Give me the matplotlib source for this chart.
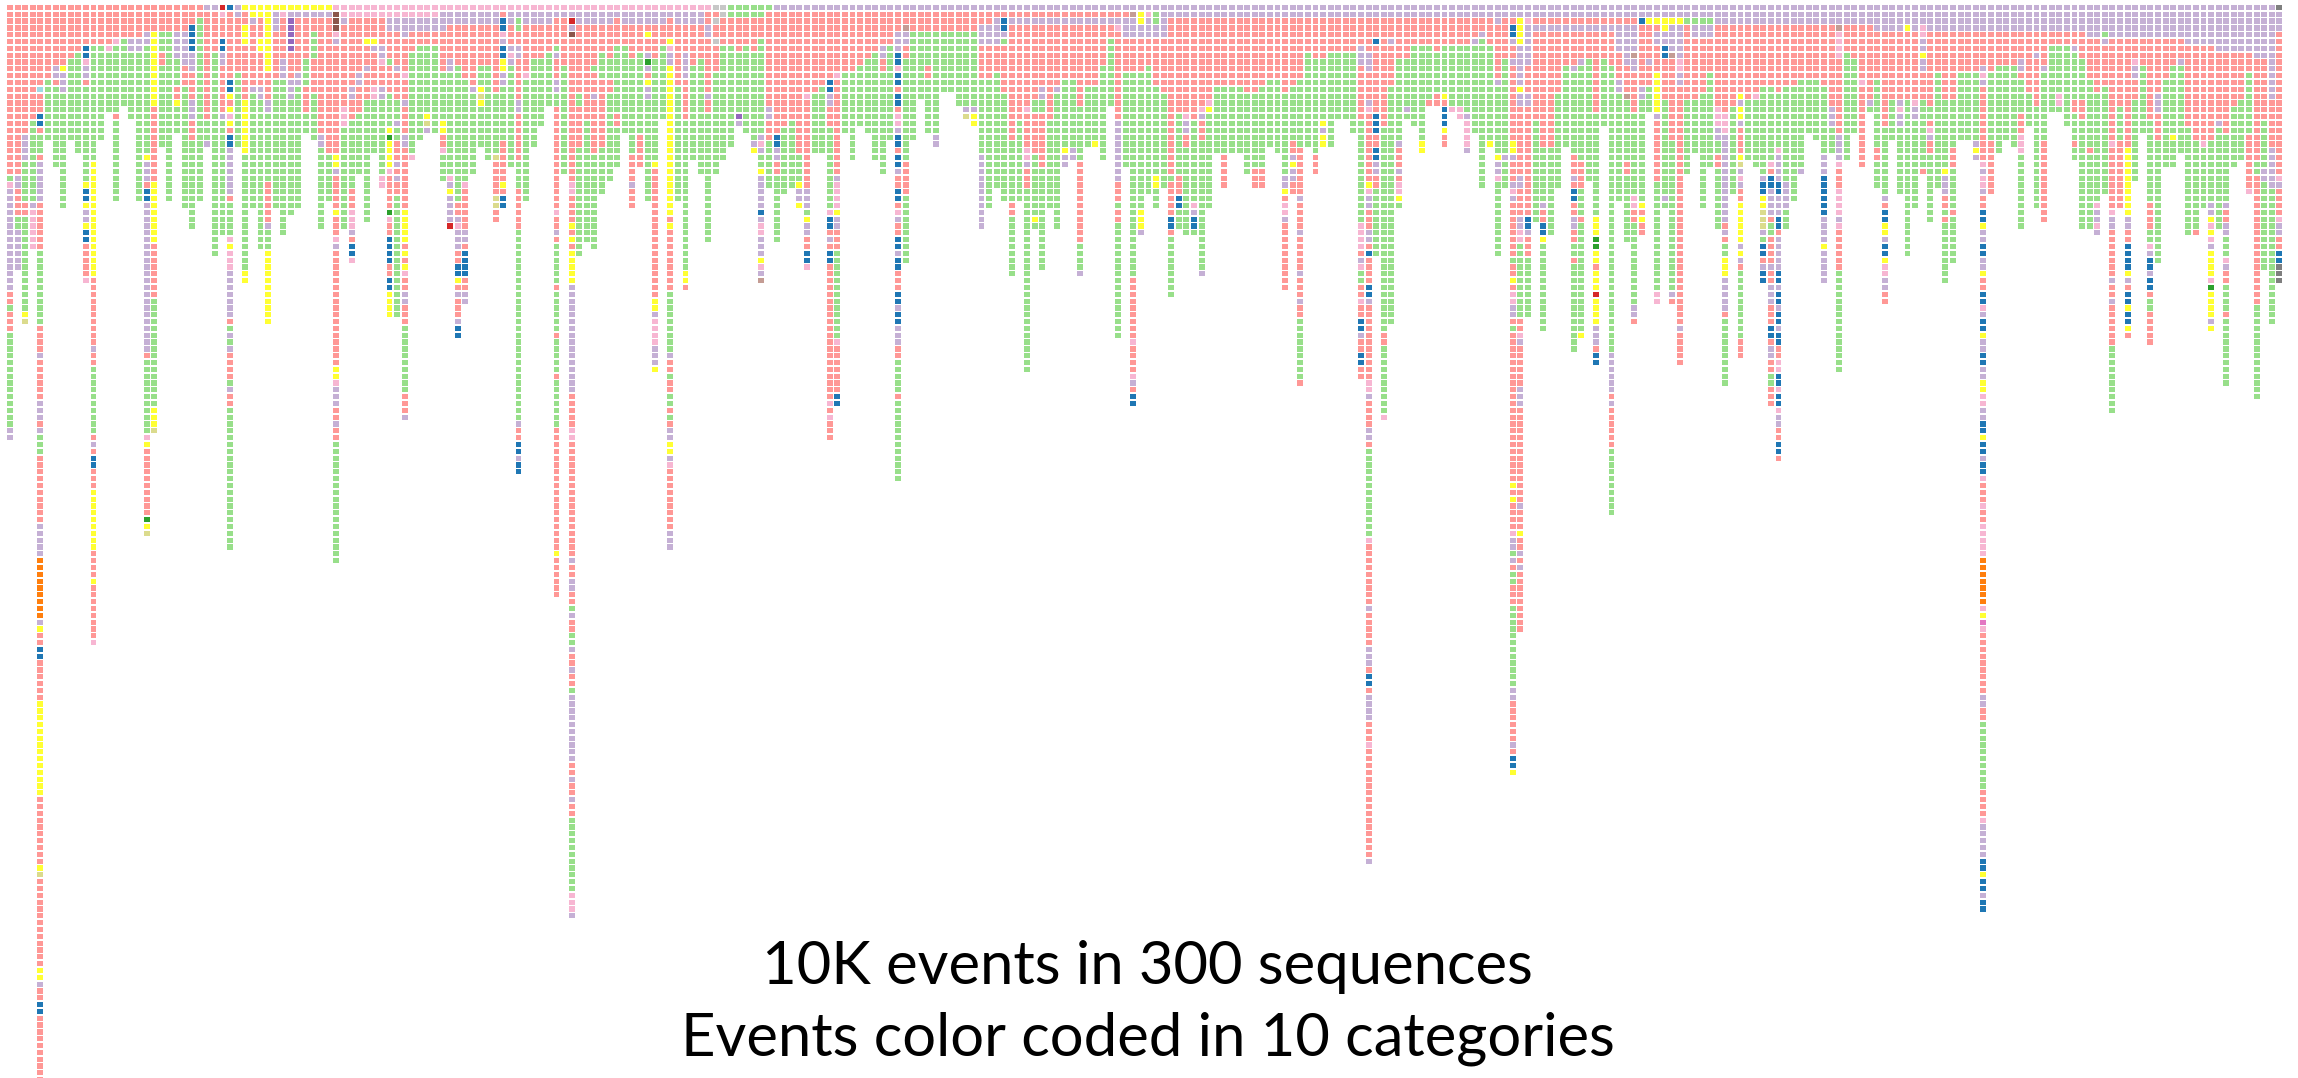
import matplotlib
matplotlib.use('Agg')
from matplotlib import pyplot as plt

# Event categories and their colours
category_codes = ['R', 'G', 'L', 'P', 'Y', 'B', 'O', 'D', 'N', 'T', 'V', 'K', 'A', 'S', 'E', 'C', 'M']
category_colors = ['#ff9896', '#98df8a', '#c5b0d5', '#f7b6d2', '#ffff33', '#1f77b4', '#ff7f0e',
                   '#d62728', '#8c564b', '#c49c94', '#9467bd', '#2ca02c', '#7f7f7f', '#c7c7c7',
                   '#dbdb8d', '#9edae5', '#e377c2']

# One string per sequence (column), events top to bottom as runs: code + count
sequences_0 = [
    "R25 G1 P1 L15 R2 G1 R3 G14 L2", "R25 L2 R4 G2 L6", "R19 L4 G6 R2 G14 Y1 E1", "R17 G12 L1 P6",
    "R12 C1 R3 B2 R1 G3 R1 L6 R7 G11 R4 L1 R6 L3 R1 L1 G3 R10 L5 O9 L1 Y1 R2 B2 R6 Y14 R10 Y1 E1 R13 Y2 L1 R2 B2 R14",
    "R11 G9", "R9 L2 R1 G12", "R9 Y1 L3 G17", "R8 G12", "R7 G15",
    "R6 B2 P1 L2 R1 G14 Y1 B2 Y1 L2 Y1 B2 R5 P1",
    "R6 G17 Y17 R10 L1 R2 G10 R1 L1 R1 B2 R3 Y9 R4 Y1 R8 P1",
    "R6 G14", "R6 P1 G9", "R5 P1 G10 R1 G12", "R5 G10", "R5 L2 G10", "R5 L2 G22",
    "R4 L2 G16 Y1 L3 R1 B2 L22 R1 G11 P1 Y1 R10 K1 Y1 E1",
    "R4 Y11 R11 Y9 R8 G16 Y3 E1", "R4 G3 R2 G12", "R4 G25", "R4 L4 G4 R2 Y1 G4", "R4 L5 R3 G18",
    "R3 B4 L3 R4 L3 R3 G13", "R2 G27", "L1 R16 G3 L1", "L1 R6 G30", "D1 P1 R3 B2 L2 R7 L1 G17",
    "B1 R10 B2 Y1 R1 Y1 P1 Y1 R1 B2 L7 R1 G5 P1 Y1 P3 L7 R1 G1 L1 G1 L1 R4 G1 L1 R2 G21",
    "L2 R8 G11", "Y1 R2 Y3 R8 Y8 G17 Y2", "Y2 L1 R9 L1 G17", "Y2 R3 Y2 R5 L2 G22",
    "Y10 R4 L2 G10 R6 L1 G3 Y11", "Y1 L3 R7 G19", "Y1 P1 R6 L3 G23", "Y1 L1 V5 R4 L3 G17",
    "Y1 L1 R8 L2 G18", "Y1 L1 R6 G4 R4 G3", "Y1 L1 R2 G4 R5 G7", "Y1 L1 R17 L2 G12", "Y1 L1 R20 G7",
    "P1 N3 P1 L1 R16 Y2 L1 R5 Y1 R3 P1 L1 R17 Y2 P1 L3 R2 L1 R2 G18",
    "P2 L1 R12 P3 G15", "P2 R10 L2 R3 G10 R3 P3 L1 R1 B2 P1", "P2 R8 L2 R4 G9",
    "P2 R3 Y1 R3 L1 R4 G18", "P2 R3 Y1 L1 R5 P2 G8", "P2 R4 L2 P1 R3 L2 G11 P2",
]
sequences_1 = [
    "P2 L2 R4 G1 R4 G5 Y1 K1 Y4 P1 R5 K1 P1 R2 B4 R2 B2 Y4",
    "P2 L2 R5 L1 R4 G3 L1 G2 R3 L1 R1 L1 R2 G18",
    "P2 L3 R5 P1 R3 L1 R4 L2 R9 Y5 R1 Y1 R1 Y1 P1 R2 L2 R3 G10 R3 L1",
    "P2 L2 R3 G15 P1", "P2 L2 R2 G14", "P2 L2 R2 G10 Y1 E1 L1", "P2 L2 R2 G13",
    "P1 L3 R6 G7 Y2 R2 P1 G4", "P1 L2 R5 L2 G15 P1 L1 Y1 L4 D1",
    "P1 L2 R6 G20 R2 L1 P1 L3 R2 B2 Y1 R1 L1 R3 L1 B2",
    "P1 L2 R8 G15 P1 R6 L2 R1 B4 R2 L2", "P1 L2 R9 L1 G12", "P1 L2 R6 G3 Y1 E1 Y1 G6",
    "P1 L2 R6 G14", "P1 L2 R10 G9 E1 R5 E2 R2", "P1 R1 B2 P1 L1 B2 Y2 L2 G8 R6 Y1 R1 B2",
    "P1 L2 R3 L1 P1 L1 G15",
    "P1 L1 G2 R2 L2 R6 L2 R7 G4 R6 G28 L1 R2 B2 L1 B2",
    "P1 L2 R7 P1 G18", "P1 L2 R5 G13", "P1 L2 R5 G10", "P1 L2 R4 G8",
    "P1 L1 R4 G1 L1 R3 L2 G2 R15 P1 R2 L1 R1 G6 R1 G6 R1 G5 R1 G7 R18 Y1 R6",
    "P1 L1 R7 G16",
    "P1 L1 D1 L1 N1 R21 P2 R4 Y1 R1 Y1 R1 Y5 L16 R5 P2 R17 L1 R2 L2 R2 G1 L1 R2 G2 L1 R2 L1 R2 G1 L10 R2 L1 R2 L1 R2 G11 P3 L1",
    "P1 L2 R10 G2 R6 G16", "P1 L2 R14 G18", "P1 L2 R6 G1 R3 L1 R8 G14", "P1 L2 R4 G4 R10 G7",
    "P1 L2 R5 G3 R2 G13", "P1 L1 R4 G10 R2 G6", "P1 L2 R3 G13", "P1 L2 R5 G14 R4 L1 R3",
    "P1 L2 R4 G12 R5", "P1 L2 R1 Y1 R2 L1 K1 L1 R1 Y1 L2 G15",
    "P1 L2 R5 G15 Y1 R19 Y2 L1 P4 L3 Y1", "P1 L2 R3 G11",
    "P1 L1 R3 Y1 P1 L2 Y22 R1 Y1 R9 G9 L1 R2 G1 R2 G2 R1 G1 R1 L2 Y2 L1 P1 R9 L3",
    "P1 L2 R9 G17", "P1 L2 R4 L4 R6 G22 Y2 R1", "P1 L2 R6 G14", "P1 L2 R5 G17",
    "P1 R2 L2 R8 L1 R2 G19", "S1 R1 S1 R2 S1 R4 G15", "S2 R4 G17", "G2 R4 G15",
    "G2 R5 G9 V1 L1", "G2 R4 G13", "G2 R5 G13 L1 Y1",
    "G2 R3 G14 L1 P1 L1 G2 Y1 L5 B1 L1 P2 L3 Y1 P1 L1 T1",
]
sequences_2 = [
    "G1 R14 L2 R3 G7", "L1 R18 B2 L2 R2 G10", "L1 R17 G10", "L1 R16 G10", "L1 R21 G4 Y1 L2 Y1",
    "L1 R12 P1 R13 L3 G1 Y1 L2 R2 B2 P1", "L1 R12 G9", "L1 R11 G10",
    "L1 R10 B2 L2 R3 G12 P1 B2 R1 L1 R1 B2 R20 P1 R1 P1 R3",
    "L1 R9 P1 R14 L1 P4 Y1 L2 R3 G13 P1 R7 B2",
    "L1 R9 G9", "L1 R9 G13", "L1 R8 G9", "L1 R7 G11", "L1 R6 G16", "L1 R5 L2 R2 G15", "L1 R5 G14",
    "L1 R3 L3 B2 P1 B2 R1 B2 R1 P2 L1 B2 R1 B2 L1 R2 B2 R1 P1 L1 R2 B2 L1 B2 R3 B2 L1 B2 L3 R2 G5 R1 G12",
    "L1 R2 T1 L2 R2 G15 R5 G10", "L1 R3 G16", "L1 R3 G10", "L1 R3 G5 R2 G8", "L1 R3 G15 L2",
    "L1 R3 G9", "L1 R3 G9", "L1 R3 G11", "L1 R3 G11 L1 E1", "L1 R3 G11 L1 Y2",
    "L1 R2 L3 R5 G11 L11", "L1 R2 L3 R5 G19", "L1 R1 L4 R4 G17", "L1 R1 B2 L1 G1 R7 G16",
    "L1 R1 L1 R17 G9 R2 G9", "L1 R1 L1 R14 G12", "L1 R1 L1 R12 P1 R5 P2 L1 R3 G27",
    "L1 R1 L1 R11 G2 R6 G9 Y1 G1", "L1 R1 L1 R9 L2 G2 R8 G15", "L1 R1 L1 R14 G13",
    "L1 R1 L1 R9 L1 G20", "L1 R1 L1 R8 G10 Y1 L2", "L1 R1 L1 R8 G10 L2",
    "L1 R1 L1 R12 G8 R12 G4 L1", "L1 R1 L1 R9 G9", "L1 R1 L1 R9 G8 Y1", "L1 R1 L1 R6 G14",
    "L1 R1 L1 R2 G10", "L1 R1 L1 P1 R13 L9 R3 G1 R2 G17", "L1 R1 L3 R5 G14",
    "L1 T1 L3 R5 G30 R9 P1 R4 P1 L1 R1 B2", "L1 Y2 L2 R5 G20 Y3 L1", "L1 P1 L3 R4 G19",
]
sequences_3 = [
    "L1 G2 L2 R7 G13 Y2 G3", "L5 R8 G14", "L2 R23 G1 R5 B2 R1 G9", "L2 R14 G9 R3 B2 G3",
    "L2 R14 P1 L2 R2 G13", "L2 R15 G12 P1 L1 B2 G1", "L2 R13 P1 L1 R3 G19 L1", "L2 R12 P1 Y1 G14",
    "L2 R10 G10", "L2 R10 G10 R5", "L2 R10 G10", "L2 R10 G10", "L2 R11 G12", "L2 R11 G11 R3",
    "L2 R10 G12 R3", "L2 R9 G10", "L2 R9 G11", "L2 R11 G12 L2 Y1 R1 P2 L1 R10",
    "L2 R10 G8 R2 L1 Y1 L2 R2", "L2 R9 G10 R7 L1 R4 L1 R5 L1 R3 L1 R2 G9 R1",
    "L2 R5 G14", "L2 R6 G14 R3", "L2 R6 G9 Y1 L1 Y2", "L2 R5 G14", "L2 R5 G10", "L2 R5 G10",
    "L2 R5 G12", "L2 R4 L3 R8 G15 P4 R1 L1 P1 G2 R2 P1 R2 B2 L1 R2 B2 R2",
    "L2 R5 L3 R4 L1 P1 R10 Y1 P1 L2 R3 L2 R1 B1 R4 B2 L1 R11 P2 L1 R4 L2 R1 G13 P1 R9 L1 R5 L3 R1 B2 R1 L4 R3 P1 R16 L1",
    "L2 R3 B1 R10 B3 R2 B2 L2 R2 G10", "L2 R16 G30 R2 G10 P1", "L2 R3 L1 R6 G35",
    "L2 R6 G12 L1 R3 L1 R1 P2 Y1 G1", "L2 R6 G7 L1 G1", "L2 R4 G12", "L2 R4 G14 Y2", "L2 R4 G8 R1",
    "L2 R5 G6 R2", "L2 R4 G7 Y1 R1 B3 Y1 R2", "L2 R4 G9 P1", "L2 R4 G9 P2", "L2 R4 G10 L1 P4 L1",
    "L2 R3 L1 G13", "L2 R2 L1 G22", "L2 R4 G14 Y1", "L3 R8 L1 G10 Y1 L2 P1 G11", "L2 R6 G14 L1 G4",
    "L2 R1 B2 L1 R2 L1 R11 Y2 L1 R3 L1 P1 L1 R8 G1 R2 Y1 R1 P2 L2 R1 G1 R22 Y1 R1 Y1 R4 P1 L2 G1 L1 R1 G2 R3 G12 L2 R6 L1 R1 B2 Y1",
    "L2 Y4 L6 Y1 L2 R10 L2 R4 L2 P2 G11 R2 P1 L1 R6 L3 R14 L1 R3 Y1 R2 L1 R1 L1 R9",
    "L2 P1 L6 R4 L2 R16 B2 L1 R3 G9",
]
sequences_4 = [
    "L2 R1 L1 R13 G15", "L2 R1 L1 R17 G8 L1 R2 B2 Y1 G13", "L2 R1 L1 R17 G13", "L2 R1 L1 R9 G14",
    "L2 R1 L1 R5 G12", "L2 R1 L1 R5 L1 G12 R3 L1 R1 B2 R2 L2 R2 G2 R1 G13",
    "L2 R1 L1 R4 L1 G14 R4 G4 R1 G16 Y1", "L2 R1 L1 R4 G18",
    "L2 R1 L1 R12 G15 Y3 K2 Y2 R1 Y3 D1 Y4 L3 R1 B2", "L2 R1 L1 R4 G10",
    "L2 R1 L1 R5 G42 L6 R1 L1 R6 G10", "L2 R1 L4 R4 L2 G16", "L2 R1 L6 R4 T1 G9 R2 G10",
    "L2 R1 L4 T1 L2 R6 G12 P2 R2 G12 L2 R1", "L2 B1 R9 L2 G15 Y1 R1 Y1 R2", "L2 Y1 R5 L1 R3 G4",
    "L2 Y1 R1 L2 R4 Y6 L1 R9 G16 P2", "L2 Y2 L2 B2 R6 G14 L1 G1", "L2 Y1 L4 T1 R12 G22 L1 R1",
    "L2 Y1 L5 P2 L2 R35 L1 R5", "L2 G1 R11 G11", "L2 G1 L2 R9 G8", "L2 G1 L2 R8 G17",
    "L2 G1 L2 R5 G14", "L3 R12 P3 L2 G2 R2 G9", "L3 R13 P3 L13 R1 L1 R1 G2 Y3 L5 R1 G10",
    "L3 R12 G13", "L3 R10 Y1 L1 Y2 L1 R4 Y1 E1 L1 P1 L1 R2 Y6 L1 Y1 L1 R1 G10 R3",
    "L3 R11 G9", "L3 R10 P1 G10", "L3 R9 G13 L1 B2 Y2 E3 L1 G1 B2 R1 L1 B2",
    "L3 R9 G11 P1 R1 B2 L4 R1 G2 R4 L1 R2 L3 R3 B2 R1 L2 R2 G2 R3",
    "L3 R10 G8 P1 L4 B2 L3 B2 R1 L5 B2 L1 B2 L1 B2 L1 B2 R2 P2 B2 P1 B2 P1 L2 R2 B2 R1",
    "L3 R9 G14 L4 G3", "L3 R9 G17", "L3 R8 G13 L1", "L3 R8 G8", "L3 R8 G9",
    "L3 R9 G10 L3 B6 L4 Y1 L5", "L3 R12 L3 G4", "L3 T1 P4 R11 L4 P1 R3 P4 L1 P1 R6 G15",
    "L3 R4 G16", "L3 R5 G11", "L3 R8 P1 R12", "L3 R11 L1 G1", "L4 R7 G10 R2 G4",
    "L4 R14 G10 L1 R1 B2 Y2 L1 B2 Y1 P2 L2 R2", "L4 R10 G6", "L4 R10 L1 P1 L2 G10", "L3 Y1 R10 G23",
]
sequences_5 = [
    "L4 R10 P1 L2 G13", "L3 P2 L2 Y1 L2 R4 G10 R1", "L4 R11 G2 R1 P1 L1 R2 G10", "L4 R6 G17",
    "L4 R10 G10 Y1 L3 R2 G1 R1 G9", "L4 R10 G7 R3 G6 R1 G7", "L4 R6 G10", "L4 R6 G10",
    "L4 R6 G10 L1 Y1 L1",
    "L4 R5 L1 P1 L1 R11 P1 L1 P2 L1 R2 B2 Y1 L2 B2 L2 Y1 R2 B2 P1 L1 B2 Y1 L2 B2 L2 Y2 P2 L2 B2 Y1 B2 L1 B2 P1 R3 P1 R2 P5 O7 P1 Y1 M1 P1 R9 L2 R2 G10 R4 P1 L5 B2 Y1 B2 L1 B2",
    "L4 R6 G10 R8", "L4 R5 G13", "L4 R5 G11", "L4 R5 G12", "L4 R4 L2 R1 G5 R3 P3 G11", "L4 R9 G5",
    "L4 R3 L1 R7 G15", "L4 R5 L1 G10 R12", "L4 R2 G10", "L4 R2 G7 P2 G1", "L4 R2 G12",
    "L4 R2 L1 G7 R2 G4 R1 G2", "L4 R4 G6 R3 G16", "L5 R6 G10 R1 G11", "L5 R8 G16 P1 L2 P1 L1",
    "L4 G1 L1 R6 G16", "L5 R15 P1 R9 P1 L2 R7 L1 R2 L1 R6 G10", "L5 R10 G5 R10",
    "L5 R16 Y10 L2 R2 B4 Y1 L1 R1 B2 Y1 B2 Y1 R1", "L5 R3 P1 L2 R3 G12", "L5 R4 G10",
    "L5 R12 G12 R4 G2 P1 L1 B2 L1 B2 R1 G2 R5", "L5 R8 L3 R4 G18", "L5 R6 G13",
    "L5 R4 G10 Y1 G4", "L5 R3 L1 G13", "L6 R12 G16", "L6 R14 G13 R1", "L6 R14 P1 G9",
    "L6 R14 G9 L2 Y1 P1 Y1 P1 L1 Y4 P1 K1 Y4 L1 Y1", "L7 R10 L1 G15",
    "L7 R12 G10 L1 R2 L2 G3 P1 L1 R2 G4 R1 G10", "L7 R8 G9", "L7 R7 G9", "L7 R3 G9 R8 P1",
    "L8 R15 G2 R19 G14", "L8 R9 G7 L2 G13", "L14 R7 L6 G20", "A1 L3 R21 P1 L1 R4 P1 L2 R2 B2 A3",
]
caption_lines = ['10K events in 300 sequences', 'Events color coded in 10 categories']

sequences = sequences_0 + sequences_1 + sequences_2 + sequences_3 + sequences_4 + sequences_5
color_of = dict(zip(category_codes, category_colors))

# Expand the runs into single cells
cell_x, cell_y, cell_c = [], [], []
for col, seq in enumerate(sequences):
    row = 0
    for run in seq.split():
        for k in range(int(run[1:])):
            cell_x.append(col)
            cell_y.append(row)
            cell_c.append(color_of[run[0]])
            row += 1

fig = plt.figure(figsize=(22.98, 10.78), dpi=100)
ax = fig.add_axes([0, 0, 1, 1])
ax.bar(cell_x, 0.76, bottom=[y + 0.12 for y in cell_y], width=0.78, color=cell_c, linewidth=0)

# column pitch ~7.59 px, row pitch ~6.83 px
ax.set_xlim(-10 / 7.59, (2298 - 10) / 7.59)
ax.set_ylim(1074 / 6.83, -4 / 6.83)
ax.axis('off')

fig.text(0.4995, 1 - 984 / 1078, caption_lines[0], ha='center', va='baseline',
         fontsize=43, family='Lato', color='black')
fig.text(0.4995, 1 - 1056 / 1078, caption_lines[1], ha='center', va='baseline',
         fontsize=43, family='Lato', color='black')

fig.savefig('out.png', dpi=100, facecolor='white')
